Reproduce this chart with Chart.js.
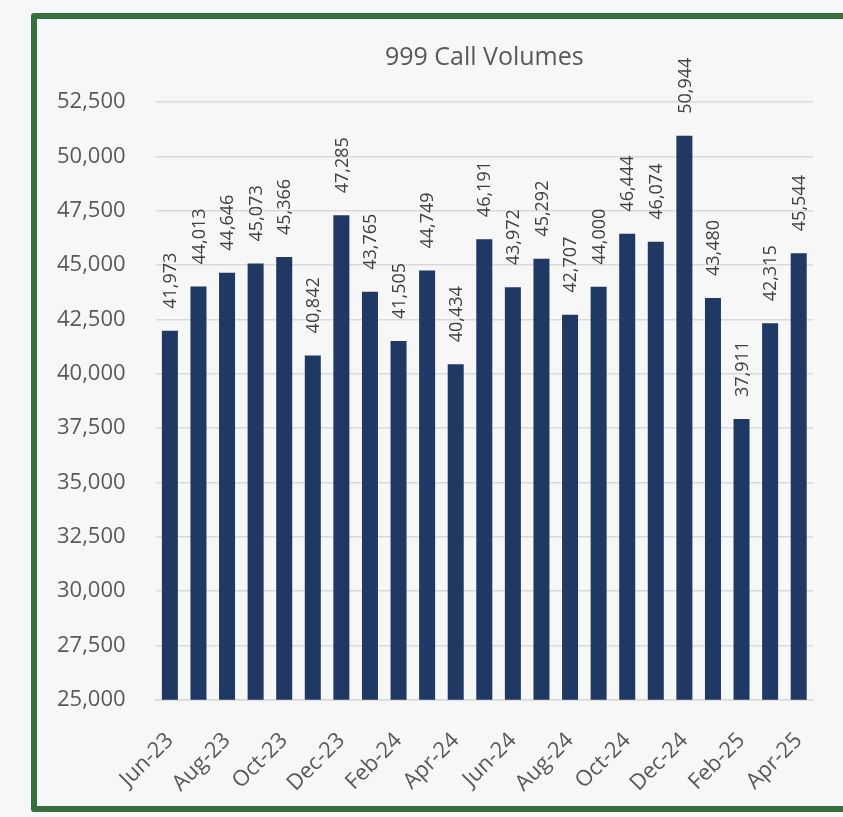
<!DOCTYPE html>
<html>
<head>
<meta charset="utf-8">
<script src="https://cdn.jsdelivr.net/npm/chart.js@4"></script>
<style>
  html, body { margin: 0; padding: 0; background: #f7f7f7; overflow: hidden; }
  #wrap { position: absolute; left: 0; top: 0; width: 843px; height: 817px; }
  #frame {
    position: absolute; left: 31px; top: 13px; width: 900px; height: 799px;
    box-sizing: border-box; border: 6px solid #37703f; border-radius: 3px;
    pointer-events: none;
  }
</style>
</head>
<body>
<div id="wrap">
  <canvas id="callChart" width="843" height="817"></canvas>
  <div id="frame"></div>
</div>
<script>
const months = ['Jun-23', 'Jul-23', 'Aug-23', 'Sep-23', 'Oct-23', 'Nov-23', 'Dec-23',
    'Jan-24', 'Feb-24', 'Mar-24', 'Apr-24', 'May-24', 'Jun-24', 'Jul-24', 'Aug-24',
    'Sep-24', 'Oct-24', 'Nov-24', 'Dec-24', 'Jan-25', 'Feb-25', 'Mar-25', 'Apr-25'];
const callVolumes = [41973, 44013, 44646, 45073, 45366, 40842, 47285,
    43765, 41505, 44749, 40434, 46191, 43972, 45292, 42707,
    44000, 46444, 46074, 50944, 43480, 37911, 42315, 45544];
const yMin = 25000;
const yMax = 52500;
const yStep = 2500;

const FONT = "'Open Sans', 'Noto Sans', sans-serif";

// Excel-style rotated value labels sitting above each bar
const valueLabels = {
    id: 'valueLabels',
    afterDatasetsDraw(chart) {
        const ctx = chart.ctx;
        const meta = chart.getDatasetMeta(0);
        ctx.save();
        ctx.fillStyle = '#404040';
        ctx.font = `18px ${FONT}`;
        ctx.textAlign = 'left';
        ctx.textBaseline = 'middle';
        meta.data.forEach((bar, i) => {
            ctx.save();
            ctx.translate(bar.x, bar.y - 22);
            ctx.rotate(-Math.PI / 2);
            ctx.fillText(callVolumes[i].toLocaleString('en-US'), 0, 1);
            ctx.restore();
        });
        ctx.restore();
    }
};

new Chart(document.getElementById('callChart'), {
    type: 'bar',
    data: {
        labels: months,
        datasets: [{
            label: 'Calls',
            data: callVolumes,
            backgroundColor: '#1f3864',
            borderWidth: 0,
            categoryPercentage: 1,
            barPercentage: 0.56,
        }]
    },
    options: {
        responsive: false,
        animation: false,
        // y tick padding counts twice in the axis width, hence the small left pad
        layout: { padding: { left: 27, right: 30, top: 28, bottom: 0 } },
        scales: {
            y: {
                min: yMin,
                max: yMax,
                ticks: {
                    stepSize: yStep,
                    padding: 30,
                    color: '#595959',
                    font: { family: FONT, size: 22 },
                    callback: v => v.toLocaleString('en-US')
                },
                grid: { color: '#d9d9d9', lineWidth: 1.5, drawTicks: false },
                border: { display: false }
            },
            x: {
                offset: true,
                grid: { display: false },
                border: { color: '#d9d9d9', width: 1.5 },
                ticks: {
                    autoSkip: false,
                    maxRotation: 45,
                    minRotation: 45,
                    padding: 20,
                    color: '#595959',
                    font: { family: FONT, size: 22 },
                    callback: (v, i) => (i % 2 === 0 ? months[i] : '')
                }
            }
        },
        plugins: {
            legend: { display: false },
            tooltip: { enabled: false },
            title: {
                display: true,
                text: '999 Call Volumes',
                fullSize: false,
                color: '#595959',
                font: { family: FONT, size: 25, weight: 'normal' },
                padding: { top: 15, bottom: 29 }
            }
        }
    },
    plugins: [valueLabels]
});
</script>
</body>
</html>
